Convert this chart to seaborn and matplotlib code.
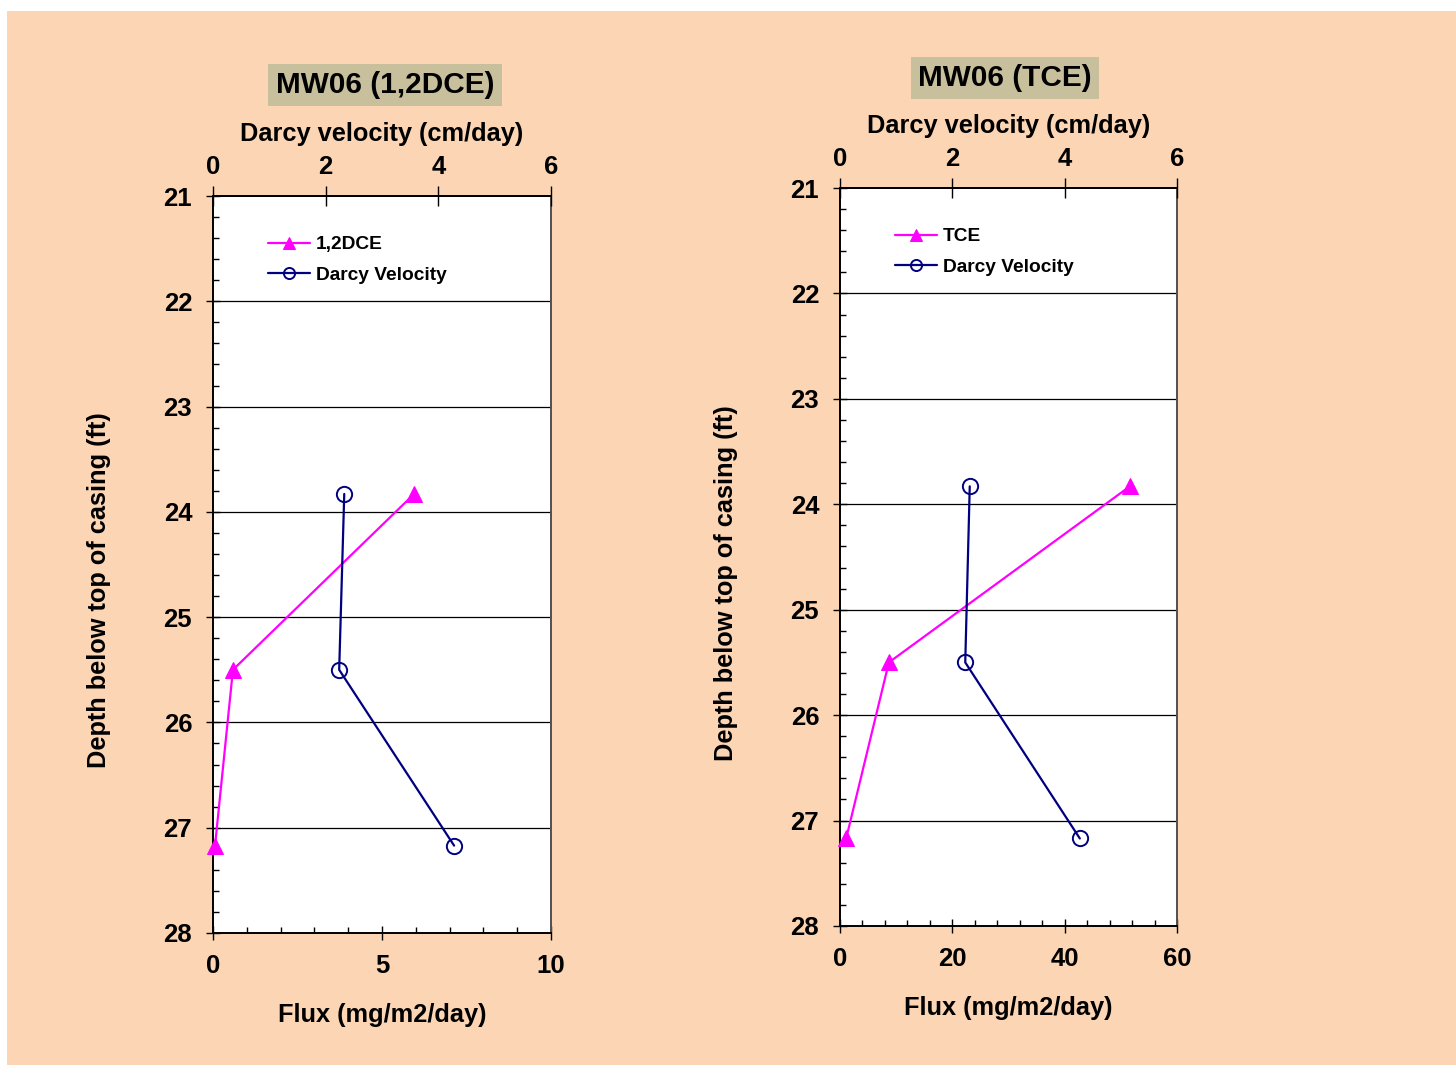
import numpy as np
import pandas as pd
import matplotlib
matplotlib.use("Agg")
import matplotlib.pyplot as plt
from matplotlib.ticker import MultipleLocator
from matplotlib.patches import Rectangle
import seaborn as sns

# ---------------- data ----------------
depth_ft = [23.83, 25.5, 27.17]

dce_flux = [5.95, 0.59, 0.06]          # mg/m2/day (bottom axis, left panel)
dce_velocity = [2.33, 2.24, 4.28]      # cm/day (top axis, left panel)

tce_flux = [51.6, 8.7, 1.1]            # mg/m2/day (bottom axis, right panel)
tce_velocity = [2.31, 2.23, 4.27]      # cm/day (top axis, right panel)

panel_titles = ["MW06 (1,2DCE)", "MW06 (TCE)"]
compound_labels = ["1,2DCE", "TCE"]
velocity_label = "Darcy Velocity"
flux_limits = [(0, 10), (0, 60)]
flux_major = [5, 20]
flux_minor = [1, 4]
vel_limits = (0, 6)
vel_ticks = [0, 2, 4, 6]
depth_limits = (28, 21)

# ---------------- style ----------------
sns.set_theme(style="ticks")
plt.rcParams["font.family"] = ["Liberation Sans", "DejaVu Sans"]
plt.rcParams["font.weight"] = "bold"
plt.rcParams["axes.labelweight"] = "bold"
plt.rcParams["text.color"] = "black"
plt.rcParams["axes.labelcolor"] = "black"
plt.rcParams["xtick.color"] = "black"
plt.rcParams["ytick.color"] = "black"
plt.rcParams["xtick.labelcolor"] = "black"
plt.rcParams["ytick.labelcolor"] = "black"

PEACH = "#FBD5B4"
KHAKI = "#C8BF9C"
MAGENTA = "#FF00FF"
NAVY = "#000080"

TICK_FS = 18.5
LABEL_FS = 18.3

fig = plt.figure(figsize=(14.56, 10.65), dpi=100)
fig.patch.set_facecolor("white")
fig.add_artist(Rectangle((7 / 1456, 0), 1 - 7 / 1456, 1 - 11 / 1065,
                         transform=fig.transFigure, facecolor=PEACH,
                         edgecolor="none", zorder=-10))

W, H = 1456, 1065
panels = [
    dict(x0=213, x1=551, y0=196, y1=933, title_xy=(385, 85),
         flux=dce_flux, vel=dce_velocity),
    dict(x0=840, x1=1177, y0=188, y1=926, title_xy=(1005, 78),
         flux=tce_flux, vel=tce_velocity),
]

for i, p in enumerate(panels):
    rect = [p["x0"] / W, 1 - p["y1"] / H, (p["x1"] - p["x0"]) / W,
            (p["y1"] - p["y0"]) / H]
    ax = fig.add_axes(rect)
    ax.set_facecolor("white")
    ax2 = ax.twiny()

    df_flux = pd.DataFrame({"flux": p["flux"], "depth": depth_ft})
    df_vel = pd.DataFrame({"vel": p["vel"], "depth": depth_ft})

    sns.lineplot(data=df_flux, x="flux", y="depth", sort=False, estimator=None,
                 ax=ax, color=MAGENTA, lw=1.6, marker="^", markersize=12,
                 markerfacecolor=MAGENTA, markeredgecolor=MAGENTA,
                 label=compound_labels[i], zorder=3, clip_on=False)
    sns.lineplot(data=df_vel, x="vel", y="depth", sort=False, estimator=None,
                 ax=ax2, color=NAVY, lw=1.6, marker="o", markersize=11,
                 markerfacecolor="none", markeredgecolor=NAVY,
                 markeredgewidth=1.4, label=velocity_label, zorder=3,
                 clip_on=False)

    ax.set_ylim(*depth_limits)
    ax.set_xlim(*flux_limits[i])
    ax2.set_xlim(*vel_limits)
    ax2.set_ylim(*depth_limits)

    # grid lines at integer depths
    for d in range(22, 28):
        ax.axhline(d, color="black", lw=0.9, zorder=1)

    ax.yaxis.set_major_locator(MultipleLocator(1))
    ax.yaxis.set_minor_locator(MultipleLocator(0.2))
    ax.xaxis.set_major_locator(MultipleLocator(flux_major[i]))
    ax.xaxis.set_minor_locator(MultipleLocator(flux_minor[i]))
    ax2.set_xticks(vel_ticks)

    ax.tick_params(axis="y", which="major", direction="inout", length=10,
                   width=1.0, color="black", labelsize=TICK_FS, pad=10,
                   right=False)
    ax.tick_params(axis="y", which="minor", direction="in", length=4,
                   width=1.0, color="black", right=False)
    ax.tick_params(axis="x", which="major", direction="inout", length=10,
                   width=1.0, color="black", labelsize=TICK_FS, pad=10)
    ax.tick_params(axis="x", which="minor", direction="in", length=4,
                   width=1.0, color="black")
    ax2.tick_params(axis="x", which="major", direction="inout", length=14,
                    width=1.0, color="black", labelsize=TICK_FS, pad=5)
    ax2.tick_params(axis="y", left=False, right=False, labelleft=False,
                    labelright=False)

    for s in ["left", "bottom", "top"]:
        ax.spines[s].set_color("black")
        ax.spines[s].set_linewidth(1.4)
    ax.spines["right"].set_color("#505050")
    ax.spines["right"].set_linewidth(1.4)
    for s in ["left", "bottom", "right"]:
        ax2.spines[s].set_visible(False)
    ax2.spines["top"].set_color("black")
    ax2.spines["top"].set_linewidth(1.4)

    ax.set_xlabel("Flux (mg/m2/day)", fontsize=LABEL_FS, fontweight="bold",
                  labelpad=18)
    ax.set_ylabel("Depth below top of casing (ft)", fontsize=LABEL_FS,
                  fontweight="bold")
    ax.yaxis.set_label_coords(-(213 - 111) / (p["x1"] - p["x0"]), 0.465)
    ax2.set_xlabel("Darcy velocity (cm/day)", fontsize=LABEL_FS,
                   fontweight="bold", labelpad=10)

    # legend combining both series
    h1, l1 = ax.get_legend_handles_labels()
    h2, l2 = ax2.get_legend_handles_labels()
    if ax.get_legend():
        ax.get_legend().remove()
    if ax2.get_legend():
        ax2.get_legend().remove()
    leg = ax2.legend(h1 + h2, l1 + l2, loc="upper left",
                     bbox_to_anchor=(0.163, 0.946), frameon=False,
                     borderpad=0, borderaxespad=0, handlelength=2.2,
                     handletextpad=0.3, labelspacing=0.7,
                     prop={"size": 13.8, "weight": "bold"})
    for lh in leg.legend_handles:
        lh.set_markersize(8)

    tx, ty = p["title_xy"]
    fig.text(tx / W, 1 - ty / H, panel_titles[i], ha="center", va="center",
             fontsize=21.4, fontweight="bold",
             bbox=dict(boxstyle="square,pad=0.25", facecolor=KHAKI,
                       edgecolor="none"))

fig.savefig("out.png", dpi=100, facecolor=fig.get_facecolor())
